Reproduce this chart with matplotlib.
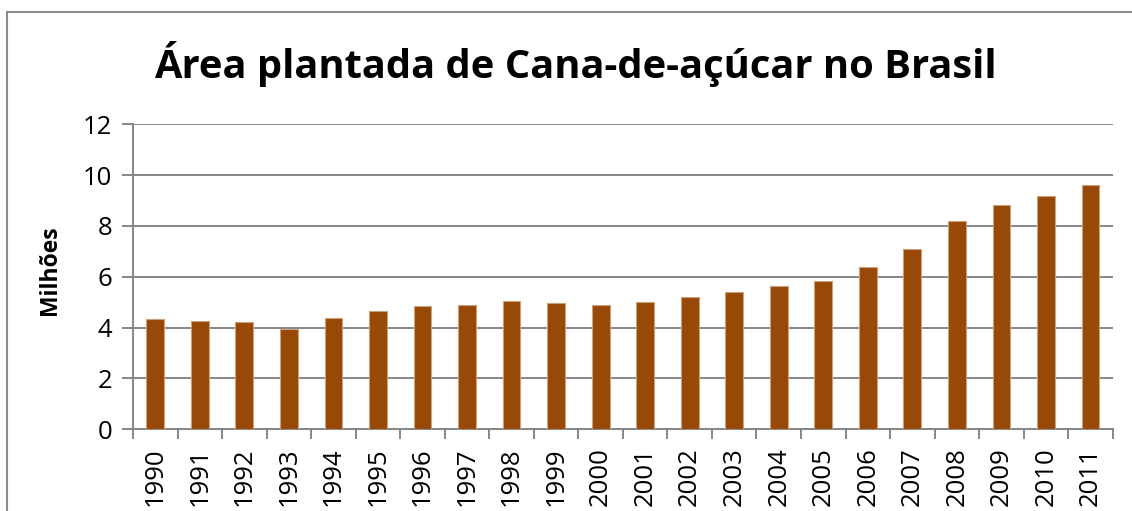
import numpy as np
import matplotlib
matplotlib.use("Agg")
from matplotlib import pyplot as plt
from matplotlib.patches import Rectangle

plt.rcParams['font.family'] = ['Open Sans', 'DejaVu Sans']

anos = [str(a) for a in range(1990, 2012)]
area_milhoes = [4.32, 4.24, 4.22, 3.95, 4.36, 4.64, 4.83, 4.87, 5.04, 4.98, 4.87,
                5.02, 5.20, 5.38, 5.63, 5.82, 6.39, 7.09, 8.21, 8.84, 9.17, 9.62]

cor_barra = '#984807'
cor_grade = '#868686'

fig = plt.figure(figsize=(11.32, 5.11), dpi=100)
ax = fig.add_axes([0.1175, 0.16, 0.8655, 0.597])

# moldura do grafico (cortada na direita e embaixo)
fig.patches.append(Rectangle((7 / 1132, -0.05), 1.2, 1 - 12 / 511 + 0.05,
                             transform=fig.transFigure, fill=False,
                             edgecolor='#8c8c8c', linewidth=1.5, zorder=0))

x = np.arange(len(anos))
ax.bar(x, area_milhoes, width=0.4, color=cor_barra, edgecolor='#c9a27e',
       linewidth=0.8, zorder=3)

ax.set_xlim(-0.5, len(anos) - 0.5)
ax.set_ylim(0, 12)
ax.set_yticks(np.arange(0, 13, 2))
ax.yaxis.grid(True, color=cor_grade, linewidth=1.4, zorder=0)

ax.set_xticks(x)
ax.set_xticklabels(anos, rotation=90)
ax.set_xticks(np.arange(-0.5, len(anos)), minor=True)
ax.tick_params(axis='x', which='major', length=0, pad=13, labelsize=18.5)
ax.tick_params(axis='x', which='minor', length=7, width=1.4, color=cor_grade)
ax.tick_params(axis='y', length=8, width=1.4, color=cor_grade, labelsize=18.5, pad=7)

for s in ['top', 'right']:
    ax.spines[s].set_visible(False)
for s in ['left', 'bottom']:
    ax.spines[s].set_color(cor_grade)
    ax.spines[s].set_linewidth(1.4)

ax.set_ylabel('Milhões', fontsize=16.5, fontweight='bold')
ax.yaxis.set_label_coords(-0.072, 0.522)

fig.text(575 / 1132, 1 - 64 / 511, 'Área plantada de Cana-de-açúcar no Brasil',
         ha='center', va='center', fontsize=28.7, fontweight='bold')

fig.savefig('out.png', dpi=100)
